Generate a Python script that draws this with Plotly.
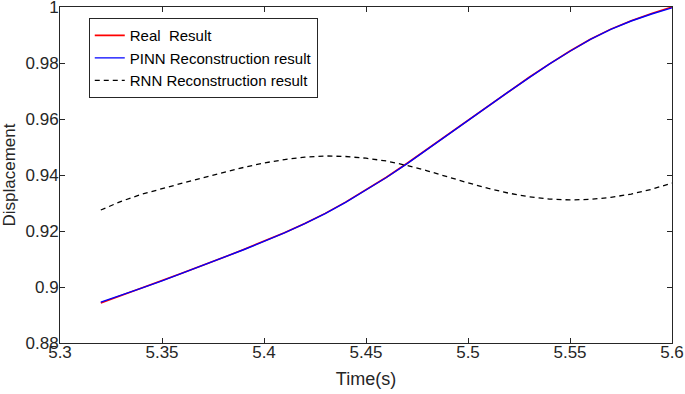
import plotly.graph_objects as go

# Time axis samples (s)
time_s = [5.32, 5.33, 5.34, 5.35, 5.36, 5.37, 5.38, 5.39, 5.40, 5.41,
          5.42, 5.43, 5.44, 5.45, 5.46, 5.47, 5.48, 5.49, 5.50, 5.51,
          5.52, 5.53, 5.54, 5.55, 5.56, 5.57, 5.58, 5.59, 5.60]
real_result = [0.8943, 0.8969, 0.8996, 0.9023, 0.9050, 0.9077, 0.9105, 0.9134, 0.9163, 0.9194,
               0.9227, 0.9263, 0.9303, 0.9346, 0.9392, 0.9441, 0.9492, 0.9544, 0.9596, 0.9648,
               0.9699, 0.9749, 0.9797, 0.9843, 0.9885, 0.9921, 0.9951, 0.9977, 1.0000]
pinn_result = [0.8946, 0.8970, 0.8996, 0.9022, 0.9050, 0.9077, 0.9104, 0.9133, 0.9163, 0.9193,
               0.9226, 0.9262, 0.9302, 0.9345, 0.9391, 0.9440, 0.9492, 0.9544, 0.9595, 0.9647,
               0.9698, 0.9748, 0.9797, 0.9842, 0.9884, 0.9920, 0.9950, 0.9975, 0.9997]
rnn_result = [0.9275, 0.9306, 0.9331, 0.9352, 0.9371, 0.9390, 0.9409, 0.9427, 0.9443, 0.9455,
              0.9464, 0.9468, 0.9466, 0.9460, 0.9450, 0.9434, 0.9415, 0.9393, 0.9372, 0.9352,
              0.9335, 0.9322, 0.9314, 0.9311, 0.9313, 0.9320, 0.9332, 0.9349, 0.9371]

x_ticks = [5.3, 5.35, 5.4, 5.45, 5.5, 5.55, 5.6]
x_tick_labels = ["5.3", "5.35", "5.4", "5.45", "5.5", "5.55", "5.6"]
y_ticks = [0.88, 0.9, 0.92, 0.94, 0.96, 0.98, 1.0]
y_tick_labels = ["0.88", "0.9", "0.92", "0.94", "0.96", "0.98", "1"]

FONT = "Liberation Sans, Arial, sans-serif"
AX = "#262626"

fig = go.Figure()
fig.add_trace(go.Scatter(x=time_s, y=real_result, mode="lines", name="Real  Result",
                         line=dict(color="#ff0000", width=1.6)))
fig.add_trace(go.Scatter(x=time_s, y=pinn_result, mode="lines", name="PINN Reconstruction result",
                         line=dict(color="#0000ff", width=1.4)))
fig.add_trace(go.Scatter(x=time_s, y=rnn_result, mode="lines", name="RNN Reconstruction result",
                         line=dict(color="#000000", width=1.3, dash="5px,4px")))

axis_common = dict(showgrid=False, zeroline=False, showline=True, linecolor=AX, linewidth=1,
                   mirror="ticks", ticks="inside", ticklen=5, tickcolor=AX,
                   ticklabeloverflow="allow",
                   tickfont=dict(family=FONT, size=17, color=AX))

fig.update_xaxes(range=[5.3, 5.6], tickvals=x_ticks, ticktext=x_tick_labels,
                 ticklabelstandoff=-6,
                 title=dict(text="Time(s)", font=dict(family=FONT, size=18, color=AX), standoff=10),
                 **axis_common)
fig.update_yaxes(range=[0.88, 1.0], tickvals=y_ticks, ticktext=y_tick_labels,
                 ticklabelstandoff=-3,
                 title=dict(text="Displacement", font=dict(family=FONT, size=17, color=AX), standoff=5),
                 **axis_common)

fig.update_layout(
    width=685, height=394,
    margin=dict(l=60, r=13, t=7, b=51, autoexpand=False),
    paper_bgcolor="white", plot_bgcolor="white",
    font=dict(family=FONT, color=AX),
    legend=dict(x=0.047, y=0.967, xanchor="left", yanchor="top",
                bgcolor="white", bordercolor=AX, borderwidth=1,
                font=dict(family=FONT, size=15, color="#000000"),
                itemwidth=30, tracegroupgap=0),
    showlegend=True,
)

fig.write_html("out.html", config={"displayModeBar": False},
               post_script="document.body.style.margin='0px';")
